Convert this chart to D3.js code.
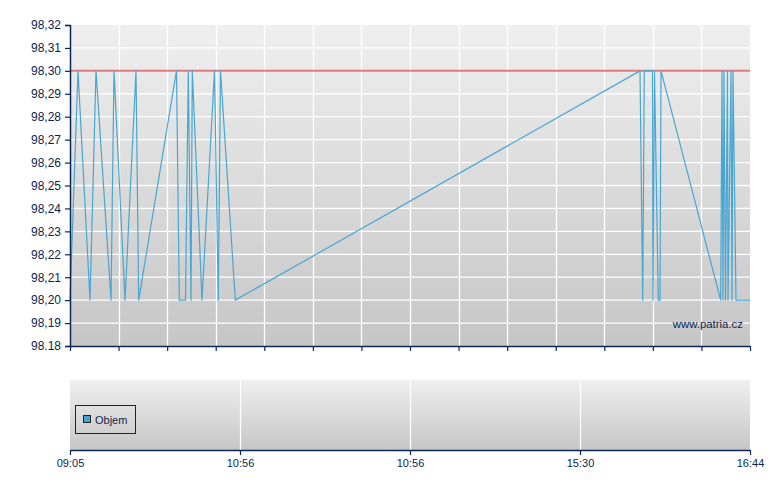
<!DOCTYPE html>
<html>
<head>
<meta charset="utf-8">
<script src="https://cdn.jsdelivr.net/npm/d3@7"></script>
<style>
  body { margin: 0; background: #fff; }
  svg text { font-family: "Liberation Sans", Arial, sans-serif; fill: #0c1f4f; }
</style>
</head>
<body>
<svg id="chart" width="780" height="490"></svg>
<script>
(function() {
  var times, prices, limitPrice, yTicks, yLabels, volLabels, legendLabel, watermark;

  // trade times and prices
  times = ["09:05:00", "09:10:24", "09:18:30", "09:22:33", "09:32:41", "09:34:42", "09:42:08",
    "09:49:33", "09:51:22", "10:16:53", "10:18:47", "10:22:58", "10:24:51", "10:26:41",
    "10:27:33", "10:34:06", "10:42:32", "10:45:06", "10:46:35", "10:56:35", "15:29:45",
    "15:31:34", "15:32:39", "15:38:11", "15:38:32", "15:39:32", "15:42:06", "15:43:15",
    "15:43:56", "16:24:13", "16:25:06", "16:25:47", "16:26:27", "16:27:28", "16:28:49",
    "16:29:09", "16:31:11", "16:31:51", "16:32:32", "16:34:33", "16:44:00"];
  prices = [98.20, 98.30, 98.20, 98.30, 98.20, 98.30, 98.20,
    98.30, 98.20, 98.30, 98.20, 98.20, 98.30, 98.20,
    98.30, 98.20, 98.30, 98.20, 98.30, 98.20, 98.30,
    98.20, 98.30, 98.30, 98.20, 98.30, 98.20, 98.20,
    98.30, 98.20, 98.30, 98.20, 98.30, 98.20, 98.30,
    98.20, 98.30, 98.20, 98.30, 98.20, 98.20];
  limitPrice = 98.30;
  yTicks = [98.18, 98.19, 98.20, 98.21, 98.22, 98.23, 98.24, 98.25, 98.26, 98.27, 98.28, 98.29, 98.30, 98.31, 98.32];
  yLabels = ["98.18", "98,19", "98,20", "98,21", "98,22", "98,23", "98,24", "98,25", "98,26", "98,27", "98,28", "98,29", "98,30", "98,31", "98,32"];
  volLabels = ["09:05", "10:56", "10:56", "15:30", "16:44"];
  legendLabel = "Objem";
  watermark = "www.patria.cz";

  var parse = d3.timeParse("%H:%M:%S");
  var data = times.map(function(t, i) { return { t: parse(t), v: prices[i] }; });

  var svg = d3.select("#chart");
  var navy = "#0c2656";
  var left = 70, right = 750, top = 25, bottom = 346;
  var vTop = 380, vBottom = 450;

  var defs = svg.append("defs");
  var grad = defs.append("linearGradient").attr("id", "bg").attr("x1", 0).attr("y1", 0).attr("x2", 0).attr("y2", 1);
  grad.append("stop").attr("offset", "0%").attr("stop-color", "#efefef");
  grad.append("stop").attr("offset", "100%").attr("stop-color", "#c6c6c6");

  var x = d3.scaleTime().domain([data[0].t, data[data.length - 1].t]).range([left, right]);
  var y = d3.scaleLinear().domain([98.18, 98.32]).range([bottom, top]);

  // price panel
  svg.append("rect").attr("x", left).attr("y", top).attr("width", right - left).attr("height", bottom - top).attr("fill", "url(#bg)");

  var t0 = x.domain()[0].getTime(), t1 = x.domain()[1].getTime();
  var xTicks = d3.range(15).map(function(i) { return new Date(t0 + i * (t1 - t0) / 14); });

  svg.append("g").selectAll("line").data(yTicks.slice(1, -1)).enter().append("line")
    .attr("x1", left).attr("x2", right).attr("y1", function(d) { return y(d); }).attr("y2", function(d) { return y(d); })
    .attr("stroke", "#fff").attr("stroke-width", 1.3);
  svg.append("g").selectAll("line").data(xTicks.slice(1, -1)).enter().append("line")
    .attr("x1", function(d) { return Math.round(x(d)) + 0.5; }).attr("x2", function(d) { return Math.round(x(d)) + 0.5; })
    .attr("y1", top).attr("y2", bottom).attr("stroke", "#fff").attr("stroke-width", 1.3);

  svg.append("line").attr("x1", left).attr("x2", right).attr("y1", y(limitPrice)).attr("y2", y(limitPrice))
    .attr("stroke", "#dc6464").attr("stroke-opacity", 0.85).attr("stroke-width", 2);

  var line = d3.line().x(function(d) { return x(d.t); }).y(function(d) { return y(d.v); });
  svg.append("path").datum(data).attr("d", line).attr("fill", "none")
    .attr("stroke", "#48a6d2").attr("stroke-width", 1.2).attr("stroke-linejoin", "round");

  svg.append("text").attr("x", 743).attr("y", 328).attr("text-anchor", "end")
    .style("font-size", "11.4px").text(watermark);

  var yAxis = svg.append("g").attr("transform", "translate(" + left + ",0)")
    .call(d3.axisLeft(y).tickValues(yTicks).tickFormat(function(d, i) { return yLabels[i]; }).tickSize(5).tickPadding(4));
  var xAxis = svg.append("g").attr("transform", "translate(0," + bottom + ")")
    .call(d3.axisBottom(x).tickValues(xTicks).tickFormat("").tickSize(5).tickSizeOuter(0));
  [yAxis, xAxis].forEach(function(g) {
    g.select(".domain").attr("stroke", navy).attr("stroke-width", 1.5);
    g.selectAll(".tick line").attr("stroke", navy).attr("stroke-width", 1.2);
  });
  yAxis.selectAll("text").style("font-size", "12px").attr("fill", "#0c1f4f");

  // volume panel
  var xv = d3.scaleLinear().domain([0, volLabels.length - 1]).range([left, right]);
  svg.append("rect").attr("x", left).attr("y", vTop).attr("width", right - left).attr("height", vBottom - vTop).attr("fill", "url(#bg)");
  svg.append("g").selectAll("line").data(d3.range(1, volLabels.length - 1)).enter().append("line")
    .attr("x1", function(d) { return xv(d) + 0.5; }).attr("x2", function(d) { return xv(d) + 0.5; })
    .attr("y1", vTop).attr("y2", vBottom).attr("stroke", "#fff").attr("stroke-width", 1.3);

  var vAxis = svg.append("g").attr("transform", "translate(0," + vBottom + ")")
    .call(d3.axisBottom(xv).tickValues(d3.range(volLabels.length)).tickFormat(function(d) { return volLabels[d]; })
      .tickSize(5).tickSizeOuter(0).tickPadding(4));
  vAxis.select(".domain").attr("stroke", navy).attr("stroke-width", 1.5);
  vAxis.selectAll(".tick line").attr("stroke", navy).attr("stroke-width", 1.2);
  vAxis.selectAll("text").style("font-size", "11px").attr("fill", "#0c1f4f");

  var legend = svg.append("g").attr("transform", "translate(75,405)");
  legend.append("rect").attr("x", 0.5).attr("y", 0.5).attr("width", 60).attr("height", 28)
    .attr("fill", "none").attr("stroke", "#222").attr("stroke-width", 1);
  legend.append("rect").attr("x", 8.5).attr("y", 10.5).attr("width", 7).attr("height", 7)
    .attr("fill", "#44a4d4").attr("stroke", "#222").attr("stroke-width", 1);
  legend.append("text").attr("x", 20).attr("y", 18.5).style("font-size", "11px").text(legendLabel);
}).call(this);
</script>
</body>
</html>
